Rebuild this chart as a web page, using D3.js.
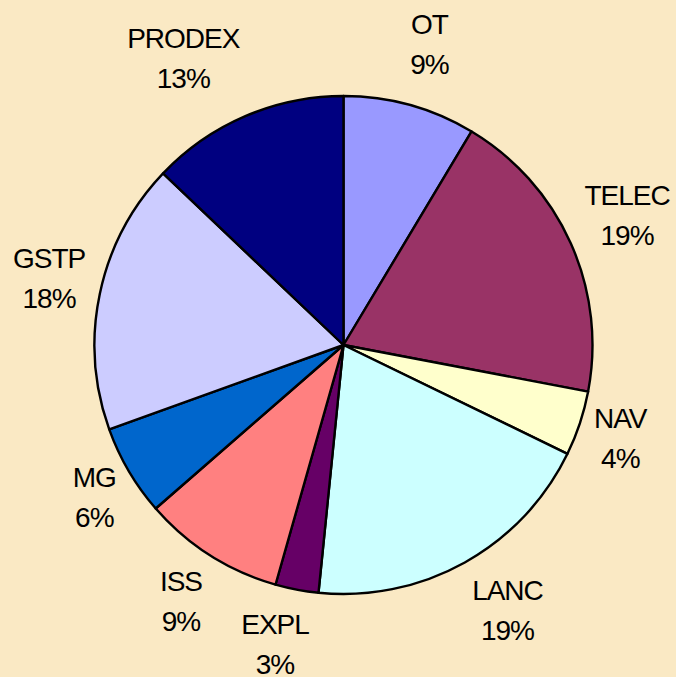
<!DOCTYPE html>
<html><head><meta charset="utf-8">
<script src="https://cdn.jsdelivr.net/npm/d3@7"></script>
<style>html,body{margin:0;padding:0;background:#FAE9C4;}svg{display:block;}</style>
</head><body>
<script>
const categories = ["OT","TELEC","NAV","LANC","EXPL","ISS","MG","GSTP","PRODEX"];
const values = [8.6,19.4,4.2,19.4,2.8,9.2,5.9,17.6,12.9];
const colors = ["#9999FF","#993366","#FFFFCC","#CCFFFF","#660066","#FF8080","#0066CC","#CCCCFF","#000080"];

const W=676,H=677, cx=343.5, cy=345, r=249;
const svg=d3.select("body").append("svg").attr("width",W).attr("height",H);
svg.append("rect").attr("width",W).attr("height",H).attr("fill","#FAE9C4");
const total=d3.sum(values);
const data=categories.map((c,i)=>({name:c,value:values[i],color:colors[i]}));
const pie=d3.pie().value(d=>d.value).sort(null);
const arcs=pie(data);
const arc=d3.arc().innerRadius(0).outerRadius(r);
const g=svg.append("g").attr("transform",`translate(${cx},${cy})`);
g.selectAll("path").data(arcs).join("path")
 .attr("d",arc).attr("fill",d=>d.data.color)
 .attr("stroke","#000").attr("stroke-width",2.4).attr("stroke-linejoin","round");

const lg=g.append("g").attr("font-family","'Liberation Sans', Arial, sans-serif")
 .attr("font-size",28).attr("letter-spacing","-1px").attr("fill","#000").attr("text-anchor","middle");
arcs.forEach(a=>{
  const th=(a.startAngle+a.endAngle)/2;
  const s=Math.sin(th), c=-Math.cos(th);
  const t=lg.append("text");
  const l1=t.append("tspan").text(a.data.name);
  const l2=t.append("tspan").text(Math.round(a.data.value/total*100)+"%");
  const w=Math.max(l1.node().getComputedTextLength(),l2.node().getComputedTextLength());
  const R=r+15;
  const fx=Math.max(-1,Math.min(1,3*s));
  const x=R*s+fx*w/2;
  const y=R*c+44*c-4;
  l1.attr("x",x).attr("y",y-10);
  l2.attr("x",x).attr("y",y+30);
});
</script>
</body></html>
